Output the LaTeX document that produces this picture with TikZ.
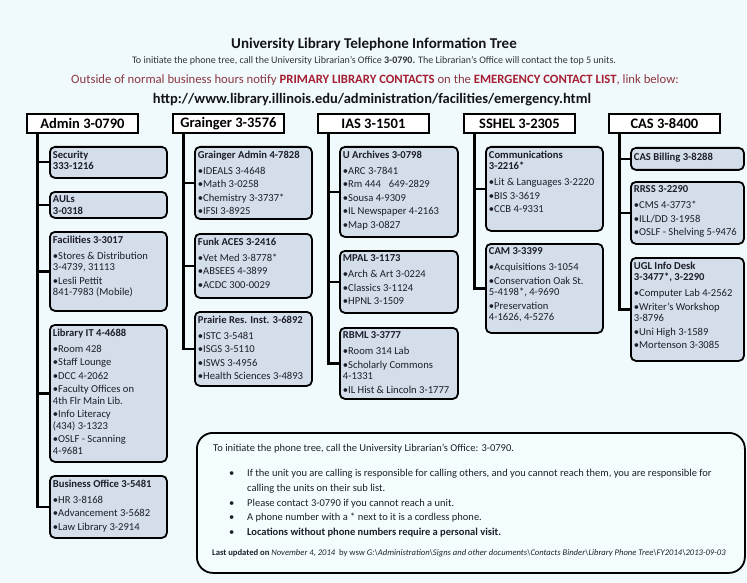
\documentclass[tikz,border=0pt]{standalone}
\usepackage{fontspec}
\setmainfont{Carlito}
\definecolor{bg}{RGB}{240,250,252}
\definecolor{boxfill}{RGB}{212,222,234}
\definecolor{notefill}{RGB}{244,253,254}
\definecolor{redA}{RGB}{140,55,65}
\definecolor{redB}{RGB}{165,30,50}
\definecolor{txt}{RGB}{28,31,42}
\newcommand\ttl[1]{\textbf{#1}\par\vspace{2.5pt}}
\newcommand\itm[1]{\par\vspace{2pt}\sbox0{\textbullet}\hangindent=\wd0 \hangafter=1 \noindent\textbullet#1\par}
\newcommand\cbx[6]{\node[cbox] (#1) at (#2,#3) {\parbox[c][\dimexpr#5pt-8pt\relax][t]{\dimexpr#4pt-6pt\relax}{\raggedright\rightskip=-6pt plus 1fil\relax\setlength\parindent{0pt}#6}};}
\tikzset{
  hdr/.style={draw=black, fill=white, line width=1.8pt, minimum width=111pt, minimum height=19pt, inner sep=0pt, anchor=north west, font=\bfseries\fontsize{14.5}{16}\selectfont},
  cbox/.style={draw=black, fill=boxfill, line width=1.8pt, rounded corners=5pt, inner xsep=3pt, inner ysep=4pt, anchor=north west, text=txt, font=\fontsize{10.6}{11.5}\selectfont},
  conn/.style={line width=2.2pt, draw=black},
  notetxt/.style={anchor=base west, inner sep=0pt, text=txt, font=\fontsize{10.5}{12}\selectfont},
}
\begin{document}
\begin{tikzpicture}[x=1pt,y=-1pt]
\useasboundingbox (0,0) rectangle (747,583);
\fill[bg] (0,0) rectangle (747,583);
% heading
\node[font=\bfseries\fontsize{15}{18}\selectfont, text={rgb,255:red,20;green,20;blue,25}] (title) at (374,44) {University Library Telephone Information Tree};
\node[font=\fontsize{10}{11}\selectfont, text={rgb,255:red,50;green,50;blue,55}] (sub) at (374,61) {To initiate the phone tree, call the University Librarian’s Office \textbf{3-0790.} The Librarian’s Office will contact the top 5 units.};
\node[font=\fontsize{12.7}{14}\selectfont, text=redA] (emg) at (375,80) {Outside of normal business hours notify \textcolor{redB}{\textbf{PRIMARY LIBRARY CONTACTS}} on the \textcolor{redB}{\textbf{EMERGENCY CONTACT LIST}}, link below:};
\node[font=\bfseries\fontsize{14.5}{17}\selectfont, text={rgb,255:red,20;green,20;blue,25}] (url) at (372,100) {http://www.library.illinois.edu/administration/facilities/emergency.html};
% headers
\node[hdr] (hA) at (26,113) {Admin 3-0790};
\node[hdr] (hG) at (172,113) {Grainger 3-3576};
\node[hdr] (hI) at (317,113) {IAS 3-1501};
\node[hdr] (hS) at (463,113) {SSHEL 3-2305};
\node[hdr] (hC) at (608,113) {CAS 3-8400};
% Admin column
\cbx{sec}{49}{146}{117}{31}{\textbf{Security}\\\textbf{333-1216}}
\cbx{aul}{49}{191}{117}{26}{\textbf{AULs}\\\textbf{3-0318}}
\cbx{fac}{49}{231}{117}{79}{\ttl{Facilities 3-3017}\itm{Stores \& Distribution\\3-4739, 31113}\itm{Lesli Pettit\\841-7983 (Mobile)}}
\cbx{lit}{49}{324}{117}{137}{\ttl{Library IT 4-4688}\itm{Room 428}\itm{Staff Lounge}\itm{DCC 4-2062}\itm{Faculty Offices on\\4th Flr Main Lib.}\itm{Info Literacy\\(434) 3-1323}\itm{OSLF - Scanning\\4-9681}}
\cbx{bus}{49}{475}{117}{62}{\ttl{Business Office 3-5481}\itm{HR 3-8168}\itm{Advancement 3-5682}\itm{Law Library 3-2914}}
% Grainger column
\cbx{gad}{194}{146}{117}{72}{\ttl{Grainger Admin 4-7828}\itm{IDEALS 3-4648}\itm{Math 3-0258}\itm{Chemistry 3-3737*}\itm{IFSI 3-8925}}
\cbx{fnk}{194}{233}{117}{64}{\ttl{Funk ACES 3-2416}\itm{Vet Med 3-8778*}\itm{ABSEES 4-3899}\itm{ACDC 300-0029}}
\cbx{pri}{194}{311}{117}{74}{\ttl{Prairie Res. Inst. 3-6892}\itm{ISTC 3-5481}\itm{ISGS 3-5110}\itm{ISWS 3-4956}\itm{Health Sciences 3-4893}}
% IAS column
\cbx{uar}{339}{146}{118}{90}{\ttl{U Archives 3-0798}\itm{ARC 3-7841}\itm{Rm 444\hspace{8pt}649-2829}\itm{Sousa 4-9309}\itm{IL Newspaper 4-2163}\itm{Map 3-0827}}
\cbx{mpl}{339}{250}{118}{62}{\ttl{MPAL 3-1173}\itm{Arch \& Art 3-0224}\itm{Classics 3-1124}\itm{HPNL 3-1509}}
\cbx{rbm}{339}{327}{118}{71}{\ttl{RBML 3-3777}\itm{Room 314 Lab}\itm{Scholarly Commons\\4-1331}\itm{IL Hist \& Lincoln 3-1777}}
% SSHEL column
\cbx{com}{485}{146}{117}{84}{\ttl{Communications\\3-2216*}\itm{Lit \& Languages 3-2220}\itm{BIS 3-3619}\itm{CCB 4-9331}}
\cbx{cam}{485}{243}{117}{89}{\ttl{CAM 3-3399}\itm{Acquisitions 3-1054}\itm{Conservation Oak St.\\5-4198*, 4-9690}\itm{Preservation\\4-1626, 4-5276}}
% CAS column
\cbx{cbl}{630}{147}{113}{22}{\vspace*{1pt}\textbf{CAS Billing 3-8288}}
\cbx{rrs}{630}{181}{113}{62}{\ttl{RRSS 3-2290}\itm{CMS 4-3773*}\itm{ILL/DD 3-1958}\itm{OSLF - Shelving 5-9476}}
\cbx{ugl}{630}{257}{113}{103}{\ttl{UGL Info Desk\\3-3477*, 3-2290}\itm{Computer Lab 4-2562}\itm{Writer’s Workshop\\3-8796}\itm{Uni High 3-1589}\itm{Mortenson 3-3085}}
% connector trunks
\coordinate (tA) at ([xshift=11.5pt]hA.south west);
\coordinate (tG) at ([xshift=11.5pt]hG.south west);
\coordinate (tI) at ([xshift=11.5pt]hI.south west);
\coordinate (tS) at ([xshift=11.5pt]hS.south west);
\coordinate (tC) at ([xshift=11.5pt]hC.south west);
\draw[conn] (tA) |- (sec.west);
\draw[conn] (tA) |- (aul.west);
\draw[conn] (tA) |- (fac.west);
\draw[conn] (tA) |- (lit.west);
\draw[conn] (tA) |- (bus.west);
\draw[conn] (tG) |- (gad.west);
\draw[conn] (tG) |- (fnk.west);
\draw[conn] (tG) |- (pri.west);
\draw[conn] (tI) |- (uar.west);
\draw[conn] (tI) |- (mpl.west);
\draw[conn] (tI) |- (rbm.west);
\draw[conn] (tS) |- (com.west);
\draw[conn] (tS) |- (cam.west);
\draw[conn] (tC) |- (cbl.west);
\draw[conn] (tC) |- (rrs.west);
\draw[conn] (tC) |- (ugl.west);
% note box
\node[draw=black, line width=1.8pt, rounded corners=16pt, fill=notefill, anchor=north west, minimum width=548pt, minimum height=140pt, inner sep=0pt] (note) at (196,432) {};
\node[notetxt] (n0) at (213,451) {To initiate the phone tree, call the University Librarian’s Office: 3-0790.};
\node[notetxt] (n1) at (229,476.5) {\makebox[18pt][l]{\textbullet}If the unit you are calling is responsible for calling others, and you cannot reach them, you are responsible for};
\node[notetxt] (n1b) at (247,491.5) {calling the units on their sub list.};
\node[notetxt] (n2) at (229,506) {\makebox[18pt][l]{\textbullet}Please contact 3-0790 if you cannot reach a unit.};
\node[notetxt] (n3) at (229,520.5) {\makebox[18pt][l]{\textbullet}A phone number with a * next to it is a cordless phone.};
\node[notetxt] (n4) at (229,535) {\makebox[18pt][l]{\textbullet}\textbf{Locations without phone numbers require a personal visit.}};
\node[notetxt, font=\fontsize{8.6}{10}\selectfont] (n5) at (212,555) {\textbf{Last updated on} \textit{November 4, 2014}\ \ by wsw \textit{G:\textbackslash Administration\textbackslash Signs and other documents\textbackslash Contacts Binder\textbackslash Library Phone Tree\textbackslash FY2014\textbackslash 2013-09-03}};
\end{tikzpicture}
\end{document}
